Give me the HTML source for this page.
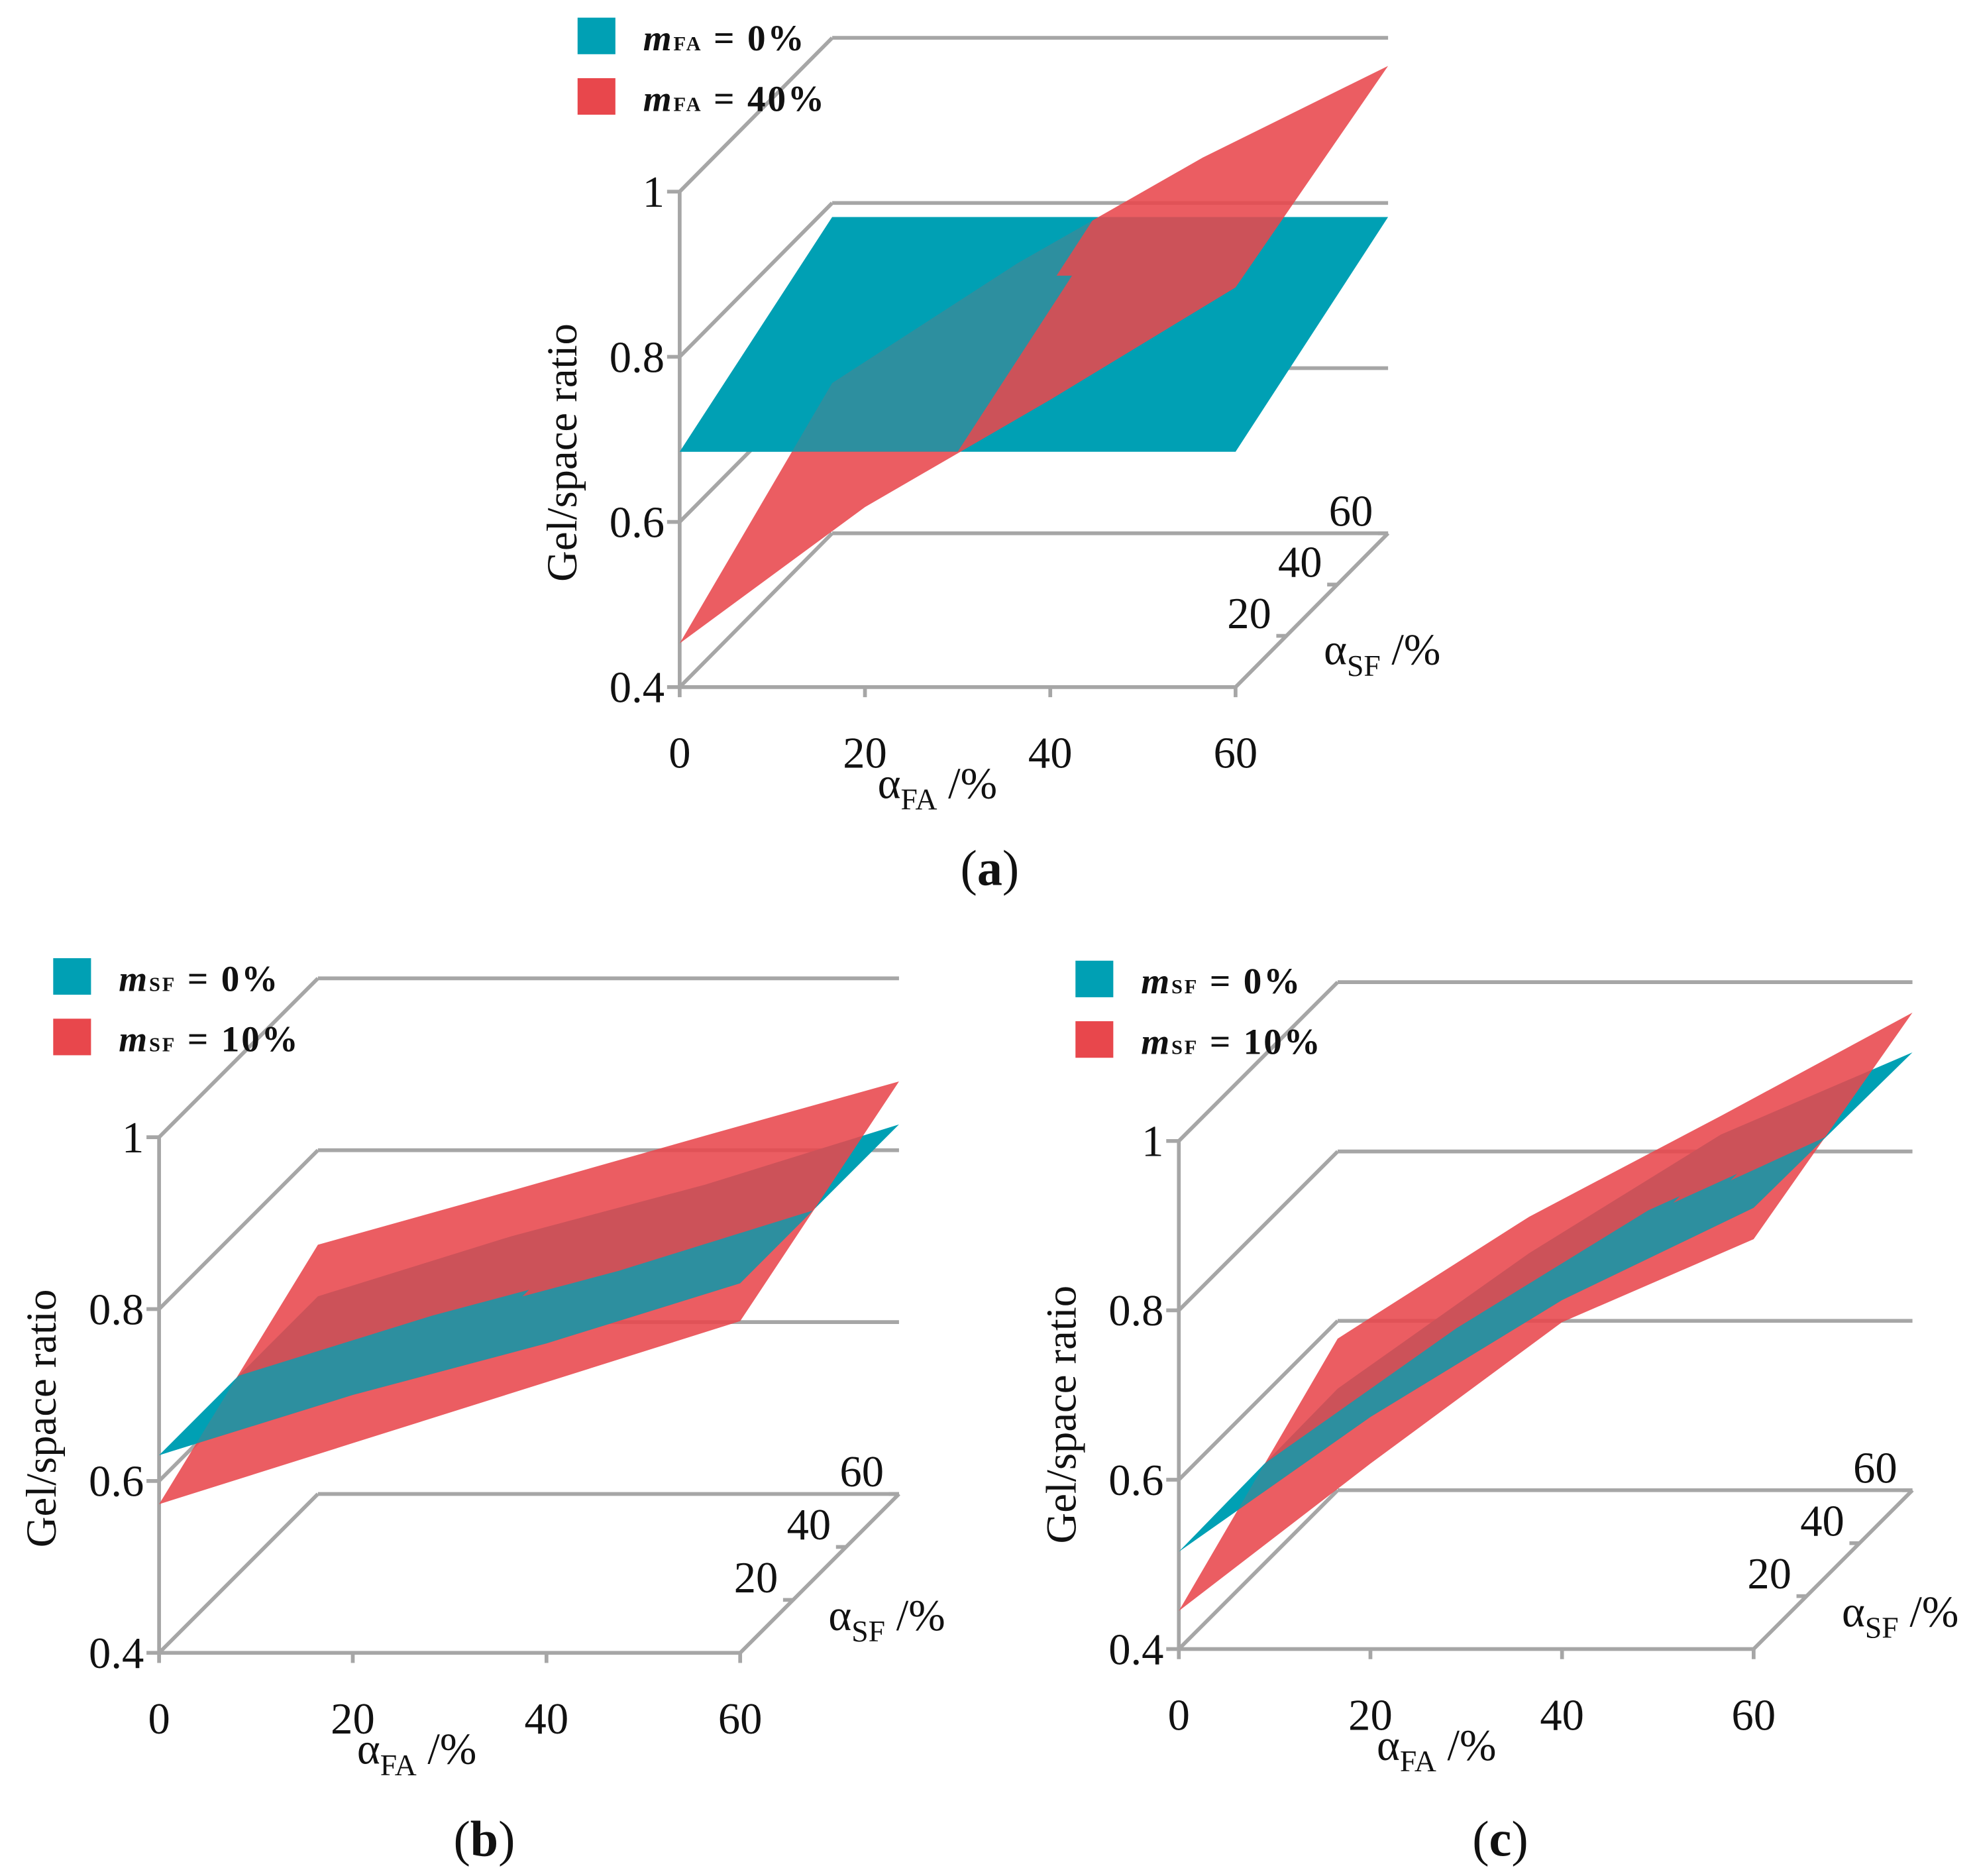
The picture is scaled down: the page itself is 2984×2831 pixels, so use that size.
<!DOCTYPE html>
<html><head><meta charset="utf-8"><style>
html,body{margin:0;padding:0;background:#fff}
svg{display:block}
text{font-family:"Liberation Serif",serif;fill:#111}
</style></head><body>
<svg id="chart" width="2984" height="2831" viewBox="0 0 1568 1488" xmlns="http://www.w3.org/2000/svg"><defs id="defs"></defs></svg>
<script>
// Shared axis data
const faTicks = [0, 20, 40, 60];
const sfTicks = [20, 40, 60];
const zTicks = [0.4, 0.6, 0.8, 1];
const zTickLabels = ["0.4", "0.6", "0.8", "1"];
const faPoints = [0, 20, 40, 60];

// Panel (a) series: front row (SF=0) and back row (SF=60) per FA point
const aTealFront = [0.685, 0.685, 0.685, 0.685];
const aTealBack  = [0.783, 0.783, 0.783, 0.783];
const aRedFront  = [0.453, 0.618, 0.748, 0.884];
const aRedBack   = [0.582, 0.727, 0.855, 0.966];
// Panel (b)
const bTealFront = [0.63, 0.70, 0.76, 0.83];
const bTealBack  = [0.63, 0.70, 0.76, 0.83];
const bRedFront  = [0.573, 0.644, 0.715, 0.786];
const bRedBack   = [0.69, 0.753, 0.817, 0.88];
// Panel (c)
const cTealFront = [0.515, 0.674, 0.812, 0.921];
const cTealBack  = [0.52, 0.68, 0.82, 0.917];
const cRedFront  = [0.445, 0.619, 0.786, 0.884];
const cRedBack   = [0.579, 0.723, 0.842, 0.964];

const NS = "http://www.w3.org/2000/svg";
const svg = document.getElementById("chart");
const defs = document.getElementById("defs");
function mk(tag, attrs, parent) {
  const e = document.createElementNS(NS, tag);
  for (const k in attrs) e.setAttribute(k, attrs[k]);
  (parent || svg).appendChild(e);
  return e;
}
const GRID = "#a6a6a6";
const TEAL = "#00a0b4", RED = "#e8474c";

function val(front, back, fa, sf) {
  let i = Math.min(faPoints.length - 2, Math.max(0, faPoints.findIndex((f, k) => fa <= faPoints[k + 1])));
  const t = (fa - faPoints[i]) / (faPoints[i + 1] - faPoints[i]);
  const f = front[i] + (front[i + 1] - front[i]) * t;
  const b = back[i] + (back[i + 1] - back[i]) * t;
  return f + (b - f) * sf / 60;
}

function panel(cfg) {
  const g = mk("g", {});
  
  
  const X = fa => cfg.ox + fa / 60 * cfg.w;
  const Z = z => cfg.oy - (z - 0.4) / 0.6 * cfg.h;
  const proj = (fa, sf, z) => [X(fa) + sf / 60 * cfg.dx, Z(z) - sf / 60 * cfg.dy];
  const line = (p, q, nm) => {
    const l = mk("line", {x1: p[0], y1: p[1], x2: q[0], y2: q[1], stroke: GRID, "stroke-width": 3}, g);
    
    
  };
  zTicks.forEach((z, i) => {
    line(proj(0, 0, z), proj(0, 60, z), "side-gridline");
    line(proj(0, 60, z), proj(60, 60, z), "back-gridline");
    line([cfg.ox - 10, Z(z)], [cfg.ox, Z(z)], "z-tick");
    const t = mk("text", {x: cfg.ox - 12, y: Z(z) + 12, "font-size": 35, "text-anchor": "end"}, g);
    t.textContent = zTickLabels[i];
    
    
  });
  line(proj(0, 0, 0.4), proj(0, 0, 1), "z-axis");
  line(proj(0, 0, 0.4), proj(60, 0, 0.4), "fa-axis");
  line(proj(60, 0, 0.4), proj(60, 60, 0.4), "sf-axis");
  faTicks.forEach(f => {
    line([X(f), cfg.oy], [X(f), cfg.oy + 8], "fa-tick");
    const t = mk("text", {x: X(f), y: cfg.oy + 64, "font-size": 35, "text-anchor": "middle"}, g);
    t.textContent = f;
    
    
  });
  sfTicks.forEach(s => {
    const p = proj(60, s, 0.4);
    line([p[0] - 8, p[1]], p, "sf-tick");
    const t = mk("text", {x: p[0] - 12, y: p[1] - 6, "font-size": 35, "text-anchor": "end"}, g);
    t.textContent = s;
    
    
  });
  const surfPts = (front, back) => {
    const pts = [];
    faPoints.forEach((f, i) => pts.push(proj(f, 0, front[i])));
    for (let i = faPoints.length - 1; i >= 0; i--) pts.push(proj(faPoints[i], 60, back[i]));
    return pts.map(q => q.join(",")).join(" ");
  };
  const t1 = mk("polygon", {points: surfPts(cfg.tealF, cfg.tealB), fill: TEAL}, g);
  
  
  const r1 = mk("polygon", {points: surfPts(cfg.redF, cfg.redB), fill: RED, "fill-opacity": 0.88}, g);
  
  
  // clip region where teal lies above red
  const cp = mk("clipPath", {id: cfg.name + "-clip"}, defs);
  const NF = 36, NS2 = 24;
  let d = "";
  for (let i = 0; i < NF; i++) for (let j = 0; j < NS2; j++) {
    const fa0 = i * 60 / NF, fa1 = (i + 1) * 60 / NF, s0 = j * 60 / NS2, s1 = (j + 1) * 60 / NS2;
    const fm = (fa0 + fa1) / 2, sm = (s0 + s1) / 2;
    if (val(cfg.tealF, cfg.tealB, fm, sm) > val(cfg.redF, cfg.redB, fm, sm)) {
      const c = [[fa0, s0], [fa1, s0], [fa1, s1], [fa0, s1]].map(q => proj(q[0], q[1], val(cfg.tealF, cfg.tealB, q[0], q[1])));
      d += "M" + c.map(q => q[0].toFixed(2) + "," + q[1].toFixed(2)).join("L") + "Z";
    }
  }
  if (d) mk("path", {d: d, fill: "#000", stroke: "#000", "stroke-width": 0.6}, cp);
  const t2 = mk("polygon", {points: surfPts(cfg.tealF, cfg.tealB), fill: TEAL, "fill-opacity": 0.78, "clip-path": `url(#${cfg.name}-clip)`}, g);
  
  
  // axis titles
  const yt = mk("text", {x: 0, y: 0, "font-size": 34, "text-anchor": "middle", transform: `translate(${cfg.ox - 82},${cfg.oy - 186}) rotate(-90)`}, g);
  yt.textContent = "Gel/space ratio";
  
  
  const xt = mk("text", {x: cfg.ox + 157, y: cfg.oy + 88, "font-size": 35}, g);
  xt.innerHTML = 'α<tspan font-size="24" dy="9">FA</tspan><tspan dy="-9"> /%</tspan>';
  
  
  const st = mk("text", {x: cfg.ox + cfg.w + 70, y: cfg.oy - 18, "font-size": 35}, g);
  st.innerHTML = 'α<tspan font-size="24" dy="9">SF</tspan><tspan dy="-9"> /%</tspan>';
  
  
  // legend
  const lg = mk("g", {}, g);
  
  
  [[TEAL, cfg.leg[0]], [RED, cfg.leg[1]]].forEach((e, i) => {
    const y = cfg.ly + i * 48;
    const r = mk("rect", {x: cfg.lx, y: y, width: 30, height: 29, fill: e[0]}, lg);
    
    
    const t = mk("text", {x: cfg.lx + 52, y: y + 26, "font-size": 29, "font-weight": "bold", "letter-spacing": 1.5}, lg);
    t.innerHTML = `<tspan font-style="italic">m</tspan><tspan font-size="16">${cfg.sub}</tspan> = ${e[1]}`;
    t.setAttribute('xml:space', 'preserve');
    
    
  });
  const cap = mk("text", {x: cfg.capx, y: cfg.capy, "font-size": 40, "text-anchor": "middle"}, g);
  cap.innerHTML = `(<tspan font-weight="bold">${cfg.cap}</tspan>)`;
  
  
}

panel({name: "panel-a", ox: 539, oy: 545, w: 441, h: 393, dx: 121, dy: 122,
  tealF: aTealFront, tealB: aTealBack, redF: aRedFront, redB: aRedBack,
  leg: ["0%", "40%"], sub: "FA", lx: 458, ly: 14, cap: "a", capx: 785, capy: 702});
panel({name: "panel-b", ox: 126, oy: 1311, w: 461, h: 409, dx: 126, dy: 126,
  tealF: bTealFront, tealB: bTealBack, redF: bRedFront, redB: bRedBack,
  leg: ["0%", "10%"], sub: "SF", lx: 42, ly: 760, cap: "b", capx: 384, capy: 1472});
panel({name: "panel-c", ox: 935, oy: 1308, w: 456, h: 403, dx: 126, dy: 126,
  tealF: cTealFront, tealB: cTealBack, redF: cRedFront, redB: cRedBack,
  leg: ["0%", "10%"], sub: "SF", lx: 853, ly: 762, cap: "c", capx: 1190, capy: 1472});
</script>
</body></html>
